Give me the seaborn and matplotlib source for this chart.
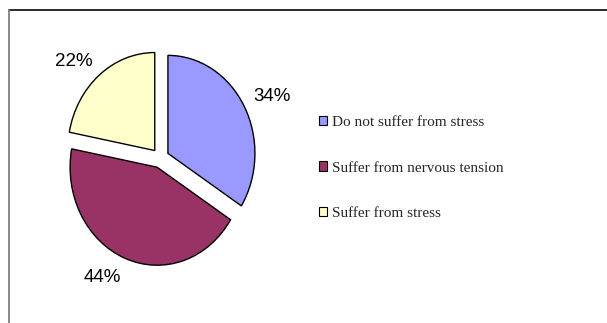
import matplotlib
matplotlib.use("Agg")
import matplotlib.pyplot as plt
from matplotlib.lines import Line2D
import seaborn as sns

categories = ["Do not suffer from stress", "Suffer from nervous tension", "Suffer from stress"]
values = [34, 44, 22]
pct_labels = ["34%", "44%", "22%"]
colors = ["#9999FF", "#993366", "#FFFFCC"]

sns.set_theme(style="white")
plt.rcParams["font.family"] = ["Liberation Sans", "DejaVu Sans"]

W, H = 607, 323
fig = plt.figure(figsize=(W / 100, H / 100), dpi=100)
fig.patch.set_facecolor("white")

ax = fig.add_axes([0, 0, 1, 1])
wedges, texts = ax.pie(
    values,
    colors=colors,
    labels=pct_labels,
    startangle=90,
    counterclock=False,
    explode=[0.1, 0.1, 0.1],
    radius=1.0,
    labeldistance=1.12,
    wedgeprops=dict(edgecolor="black", linewidth=1.0),
    textprops=dict(fontsize=13.5, color="black", family=["Liberation Sans", "DejaVu Sans"]),
)
# anchor each label by its nearest corner, like the spreadsheet layout
for t in texts:
    x, y = t.get_position()
    t.set_va("baseline" if y > 0 else "top")

# elliptical pie (stretched vertically like the source)
cx, cy, rx, ry = 160.3, 158.1, 87.0, 98.0
ax.set_aspect("auto")
ax.set_xlim(-cx / rx, (W - cx) / rx)
ax.set_ylim((cy - H) / ry, cy / ry)
ax.axis("off")

leg = ax.legend(
    wedges,
    categories,
    loc="center left",
    bbox_to_anchor=(319 / W, 1 - 168 / H),
    bbox_transform=fig.transFigure,
    frameon=False,
    borderpad=0,
    borderaxespad=0,
    handlelength=0.55,
    handleheight=0.55,
    handletextpad=0.3,
    labelspacing=2.12,
    prop=dict(family=["Liberation Serif", "DejaVu Serif"], size=11),
)
for h in leg.legend_handles:
    h.set_linewidth(0.8)
    h.set_edgecolor("black")

# chart-area frame (top and left edges visible)
fig.add_artist(Line2D([9 / W, 1], [1 - 10 / H, 1 - 10 / H], transform=fig.transFigure,
                      color="#1a1a1a", linewidth=1.3))
fig.add_artist(Line2D([9 / W, 9 / W], [0, 1 - 10 / H], transform=fig.transFigure,
                      color="#7f7f7f", linewidth=1.3))

fig.savefig("out.png", dpi=100, facecolor="white")
